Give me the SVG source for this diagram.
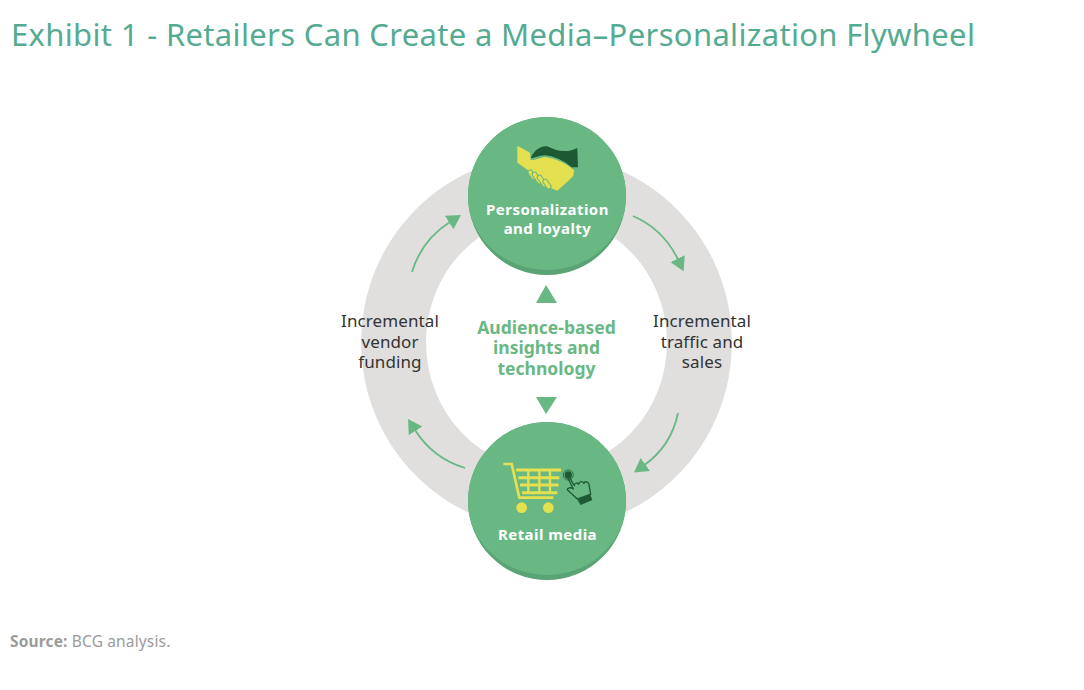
<svg xmlns="http://www.w3.org/2000/svg" width="1084" height="690" viewBox="0 0 1084 690">
<style>
text{font-family:"Noto Sans","Open Sans","Liberation Sans",sans-serif;text-anchor:middle}
.title{font-size:31px;letter-spacing:.33px;fill:#55ab91;text-anchor:start}
.src{font-size:15.5px;letter-spacing:.15px;fill:#9b9b9b;text-anchor:start}
.side{font-size:17px;letter-spacing:.1px;fill:#333}
.mid{font-size:17.5px;font-weight:700;fill:#69b884}
.nl{font-size:15px;letter-spacing:.45px;font-weight:700;fill:#fff}
.disc{fill:#69b884}
.under{fill:#5aa374}
.arc{fill:none;stroke:#69b884;stroke-width:1.8;marker-end:url(#head)}
.y{fill:#e5e050}
.ys{fill:none;stroke:#e5e050}
.d{fill:#1d5a33}
</style>
<defs>
<marker id="head" markerUnits="userSpaceOnUse" markerWidth="16" markerHeight="18" refX="1" refY="8" orient="auto">
<path d="M0 0L14 8L0 16Z" fill="#69b884"/>
</marker>
</defs>
<rect width="1084" height="690" fill="#fff"/>
<text class="title" x="11" y="46">Exhibit 1 - Retailers Can Create a Media–Personalization Flywheel</text>
<path id="ring" fill="#e0dfde" fill-rule="evenodd" d="M361 342.5A185.5 187.5 0 0 1 732 342.5A185.5 187.5 0 0 1 361 342.5ZM426 342.5A120.5 127 0 0 0 667 342.5A120.5 127 0 0 0 426 342.5Z"/>
<g id="connectors">
<path class="arc" d="M633 216A90 90 0 0 1 678 259.5"/>
<path class="arc" d="M678 413A85 85 0 0 1 644.5 465"/>
<path class="arc" d="M465 468A90 90 0 0 1 415 430"/>
<path class="arc" d="M412 272A90 90 0 0 1 450 222"/>
</g>
<g id="label-right">
<text class="side" x="702" y="327">Incremental</text>
<text class="side" x="702" y="348">traffic and</text>
<text class="side" x="702" y="368">sales</text>
</g>
<g id="label-left">
<text class="side" x="390" y="327">Incremental</text>
<text class="side" x="390" y="348">vendor</text>
<text class="side" x="390" y="368">funding</text>
</g>
<g id="center">
<path d="M546 285L557 303H536Z" fill="#69b884"/>
<path d="M536 397H557L546 414Z" fill="#69b884"/>
<text class="mid" x="546.5" y="334">Audience-based</text>
<text class="mid" x="546.5" y="354">insights and</text>
<text class="mid" x="546.5" y="375">technology</text>
</g>
<g id="node-personalization">
<circle class="under" cx="547" cy="196" r="79"/>
<path class="disc" d="M468 196A79 79 0 0 1 626 196A79 74 0 0 1 468 196Z"/>
<g transform="translate(460 110) scale(.3333)">
<path class="d" d="M212 145C222 120 245 104 265 110C285 120 315 132 352 114L354 172H335C310 150 280 138 255 136C235 136 225 145 212 145Z"/>
<path class="y" d="M172 107L210 128L212 150C230 150 240 143 255 141C285 145 315 158 342 180L340 197L322 215L292 242L272 234L235 208L200 178L172 158Z"/>
<g fill="#e5e050" stroke="#69b884" stroke-width="3">
<rect x="-7" y="-16" width="14" height="32" rx="7" transform="translate(216 194) rotate(-35)"/>
<rect x="-7" y="-20" width="14" height="40" rx="7" transform="translate(231 204) rotate(-35)"/>
<rect x="-7" y="-20" width="14" height="40" rx="7" transform="translate(246 213) rotate(-35)"/>
<rect x="-7" y="-16" width="14" height="32" rx="7" transform="translate(261 222) rotate(-35)"/>
</g>
</g>
<text class="nl" x="547.5" y="214.5">Personalization</text>
<text class="nl" x="547.5" y="233.5">and loyalty</text>
</g>
<g id="node-retail-media">
<circle class="under" cx="547" cy="501" r="79"/>
<path class="disc" d="M468 501A79 79 0 0 1 626 501A79 74 0 0 1 468 501Z"/>
<g transform="translate(460 415) scale(.3333)">
<path class="ys" stroke-width="8" d="M130 147H155L178 248H280"/>
<path class="ys" stroke-width="9" d="M168 165H303M175 188H298M180 210H296M186 233H292"/>
<path class="ys" stroke-width="7" d="M205 165V233M238 165V233M270 165V233"/>
<circle class="y" cx="185" cy="278" r="16"/>
<circle class="y" cx="265" cy="278" r="16"/>
<circle class="d" cx="325" cy="180" r="11"/>
<circle cx="325" cy="180" r="15" fill="none" stroke="#1d5a33" stroke-width="2.5"/>
<path fill="none" stroke="#1d5a33" stroke-width="4" stroke-linejoin="round" d="M330 190L343 212C342 206 352 200 356 208C358 198 368 198 372 205C374 197 385 200 387 208L392 238L352 252L322 224C322 218 332 216 340 222L322 186"/>
<path class="d" d="M352 254L390 236L397 255L362 270Z"/>
</g>
<text class="nl" x="547.5" y="539.5">Retail media</text>
</g>
<text class="src" x="10" y="646.5"><tspan font-weight="700">Source:</tspan> BCG analysis.</text>
</svg>
